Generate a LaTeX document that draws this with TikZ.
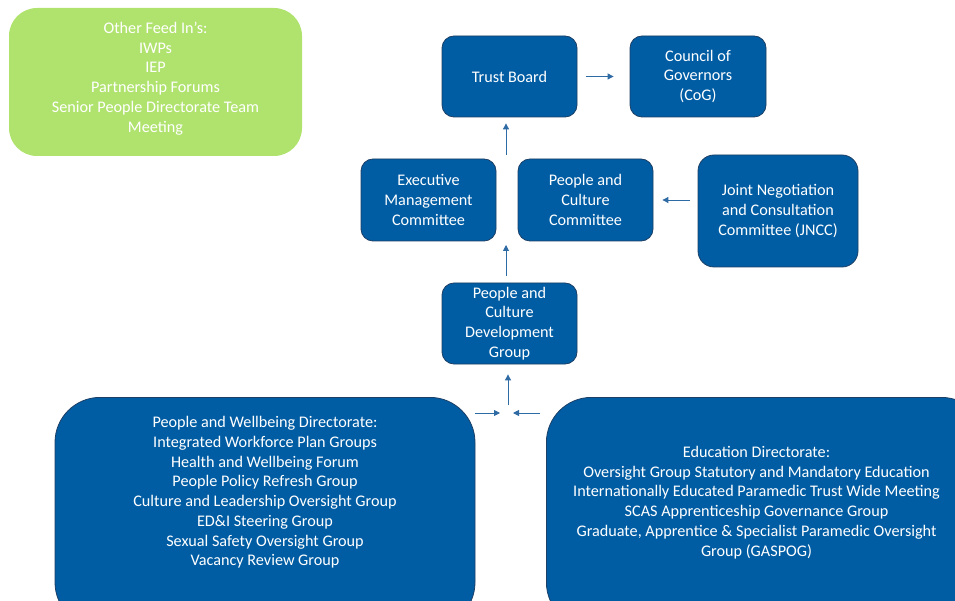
\documentclass[tikz,border=0pt]{standalone}
\usepackage{fontspec}
\setmainfont{Carlito}
\usetikzlibrary{arrows.meta}
\definecolor{boxblue}{HTML}{005DA4}
\definecolor{boxedge}{HTML}{1D3F66}
\definecolor{feedgreen}{HTML}{B0E36E}
\definecolor{arrowblue}{HTML}{2E6AA3}

\tikzset{
  boxtext/.style={text=white, align=center, inner sep=0pt, font=\fontsize{16.2}{19.7}\selectfont},
  govbox/.style={boxtext, draw=boxedge, line width=0.8pt, fill=boxblue, rounded corners=12pt,
    minimum width=135pt, minimum height=81pt},
  bigbox/.style={draw=boxedge, line width=0.8pt, fill=boxblue, rounded corners=45pt, inner sep=0pt},
  flow/.style={arrowblue, line width=0.9pt, -{Triangle[length=6pt, width=6pt]}}
}

\begin{document}
\begin{tikzpicture}[x=1pt, y=1pt]
\useasboundingbox (0,0) rectangle (955,-601);
\clip (0,0) rectangle (955,-601);

% other feed in's
\node[fill=feedgreen, rounded corners=28pt, minimum width=293pt, minimum height=148pt] (feed) at (155.5,-82) {};
\node[boxtext] (feedtext) at (155.5,-78.5) {Other Feed In’s:\\IWPs\\IEP\\Partnership Forums\\Senior People Directorate Team\\Meeting};

% top row
\node[govbox] (tb) at (509.5,-76.5) {Trust Board};
\node[govbox, minimum width=136pt] (cog) at (698,-76.5) {Council of\\Governors\\(CoG)};

% committees
\node[govbox, minimum height=82pt] (emc) at (428.5,-200) {Executive\\Management\\Committee};
\node[govbox, minimum height=82pt] (pcc) at (585.5,-200) {People and\\Culture\\Committee};
\node[govbox, rounded corners=16pt, minimum width=160pt, minimum height=112pt] (jncc) at (778,-211) {Joint Negotiation\\and Consultation\\Committee (JNCC)};

% development group
\node[govbox] (pcdg) at (509.5,-323.5) {People and\\Culture\\Development\\Group};

% directorates
\node[bigbox, minimum width=420pt, minimum height=230pt, anchor=north] (pwd) at (265,-397) {};
\node[boxtext] (pwdtext) at (265,-492.5) {People and Wellbeing Directorate:\\Integrated Workforce Plan Groups\\Health and Wellbeing Forum\\People Policy Refresh Group\\Culture and Leadership Oversight Group\\ED\&I Steering Group\\Sexual Safety Oversight Group\\Vacancy Review Group};
\node[bigbox, minimum width=440pt, minimum height=230pt, anchor=north west] (ed) at (546,-397) {};
\node[boxtext] (edtext) at (756.5,-502.5) {Education Directorate:\\Oversight Group Statutory and Mandatory Education\\Internationally Educated Paramedic Trust Wide Meeting\\SCAS Apprenticeship Governance Group\\Graduate, Apprentice \& Specialist Paramedic Oversight\\Group (GASPOG)};

% flows
\coordinate (gap) at (506,-200);
\coordinate (join) at (508,-413);
\draw[flow, shorten <=9pt, shorten >=16pt] (tb.east) -- (cog.west);
\draw[flow, shorten <=8pt, shorten >=9pt] (jncc.west |- pcc.east) -- (pcc.east);
\draw[flow, shorten <=45pt, shorten >=6pt] (gap) -- (gap |- tb.south);
\draw[flow, shorten <=7pt, shorten >=45pt] (gap |- pcdg.north) -- (gap);
\draw[flow, shorten <=8pt, shorten >=10pt] (join) -- (join |- pcdg.south);
\draw[flow, shorten >=8pt] (pwd.east |- join) -- (join);
\draw[flow, shorten <=6pt, shorten >=5pt] (ed.west |- join) -- (join);
\end{tikzpicture}
\end{document}
